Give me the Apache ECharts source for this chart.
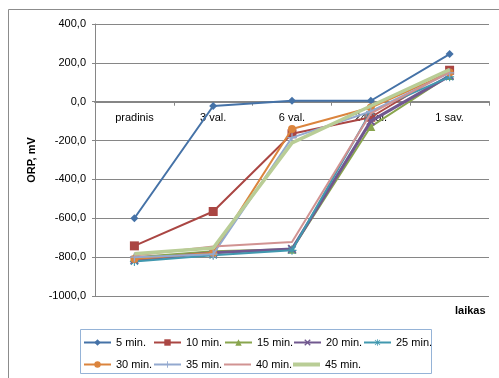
<!DOCTYPE html>
<html><head><meta charset="utf-8">
<script src="https://cdn.jsdelivr.net/npm/echarts@6/dist/echarts.min.js"></script>
<style>html,body{margin:0;padding:0;background:#fff}#c{width:499px;height:378px}</style>
</head><body><div id="c"></div>
<script>
const categories = ['pradinis', '3 val.', '6 val.', '24 val.', '1 sav.'];
const seriesNames = ['5 min.', '10 min.', '15 min.', '20 min.', '25 min.', '30 min.', '35 min.', '40 min.', '45 min.'];
const s5  = [-600, -22, 5, 5, 245];
const s10 = [-742, -565, -165, -80, 162];
const s15 = [-800, -770, -760, -128, 135];
const s20 = [-815, -778, -758, -100, 133];
const s25 = [-822, -790, -765, -50, 128];
const s30 = [-810, -778, -140, -30, 150];
const s35 = [-800, -785, -185, -50, 148];
const s40 = [-792, -745, -722, -60, 152];
const s45 = [-783, -753, -212, -22, 165];
const yTicks = [-1000, -800, -600, -400, -200, 0, 200, 400];

const values = [s5, s10, s15, s20, s25, s30, s35, s40, s45];
const colors = ['#4572A7', '#AA4643', '#89A54E', '#71588F', '#4198AF', '#DB843D', '#93A9CF', '#D19392', '#B9CD96'];
const X = 'path://M0,1.5 L1.5,0 L5,3.5 L8.5,0 L10,1.5 L6.5,5 L10,8.5 L8.5,10 L5,6.5 L1.5,10 L0,8.5 L3.5,5 Z';
const PLUS = 'path://M4.3,0 H5.7 V4.3 H10 V5.7 H5.7 V10 H4.3 V5.7 H0 V4.3 H4.3 Z';
const STAR = 'path://M4.4,0 H5.6 V3.6 L8.6,0.8 L9.4,1.6 L6.4,4.4 H10 V5.6 H6.4 L9.4,8.4 L8.6,9.2 L5.6,6.4 V10 H4.4 V6.4 L1.4,9.2 L0.6,8.4 L3.6,5.6 H0 V4.4 H3.6 L0.6,1.6 L1.4,0.8 L4.4,3.6 Z';
const symbols = ['diamond', 'rect', 'triangle', X, STAR, 'circle', PLUS, 'none', 'none'];
const symSizes = [8, 9, 9, 9, 9, 8, 9, 0, 0];
const widths = [2, 2, 2, 3, 2, 2, 2, 2, 3.5];

const FONT = 'Liberation Sans';
const legendPos = [[83,337],[153,337],[224,337],[293,337],[363,337],[83,359],[153,359],[224,359],[293,359]];
const GRID_TOP = 24, GRID_BOTTOM = 82, H = 378, YMIN = -1000, YMAX = 400;
const zeroOffset = -(0 - YMIN) / (YMAX - YMIN) * (H - GRID_TOP - GRID_BOTTOM);

const chart = echarts.init(document.getElementById('c'));
chart.setOption({
  animation: false,
  backgroundColor: '#fff',
  textStyle: { fontFamily: FONT },
  graphic: [
    { type: 'rect', shape: { x: 8.5, y: 9.5, width: 520, height: 400 }, style: { fill: 'none', stroke: '#8c8c8c', lineWidth: 1 }, z: -1 },
    { type: 'rect', shape: { x: 80.5, y: 329.5, width: 351, height: 44 }, style: { fill: '#fff', stroke: '#95B3D7', lineWidth: 1 }, z: 0 },
    { type: 'text', left: 455, top: 305, style: { text: 'laikas', font: 'bold 11px ' + FONT, fill: '#000' } }
  ],
  grid: { left: 95, right: 10, top: GRID_TOP, bottom: GRID_BOTTOM },
  legend: seriesNames.map((n, i) => {
    const noSym = symbols[i] === 'none';
    const lh = i === 8 ? 4 : 2;
    return {
      data: [noSym ? { name: n, icon: 'rect' } : n],
      left: legendPos[i][0], top: legendPos[i][1],
      padding: 0, itemWidth: 27, itemHeight: noSym ? lh : 8, itemGap: 0, selectedMode: false,
      textStyle: { fontFamily: FONT, fontSize: 11, color: '#000' }
    };
  }),
  xAxis: {
    type: 'category', data: categories, boundaryGap: true, offset: zeroOffset,
    axisLine: { onZero: false, lineStyle: { color: '#868686', width: 2 } },
    axisTick: { show: true, length: 4, lineStyle: { color: '#868686' } },
    axisLabel: { color: '#000', fontSize: 11, fontFamily: FONT, margin: 11 },
    splitLine: { show: false }
  },
  yAxis: {
    type: 'value', min: YMIN, max: YMAX, interval: 200,
    name: 'ORP, mV', nameLocation: 'middle', nameGap: 58, nameRotate: 90,
    nameTextStyle: { fontWeight: 'bold', fontSize: 11, color: '#000', fontFamily: FONT },
    axisLine: { show: true, lineStyle: { color: '#868686' } },
    axisTick: { show: true, length: 3, lineStyle: { color: '#868686' } },
    axisLabel: { color: '#000', fontSize: 11, fontFamily: FONT, margin: 9,
      formatter: v => yTicks.includes(v) ? v.toFixed(1).replace('.', ',') : '' },
    splitLine: { lineStyle: { color: '#868686', width: 1 } }
  },
  series: seriesNames.map((n, i) => ({
    name: n, type: 'line', data: values[i],
    symbol: symbols[i], symbolSize: symSizes[i], showSymbol: symbols[i] !== 'none',
    color: colors[i],
    lineStyle: { color: colors[i], width: widths[i] },
    itemStyle: { color: colors[i] },
    z: 2 + i
  }))
});
</script></body></html>
